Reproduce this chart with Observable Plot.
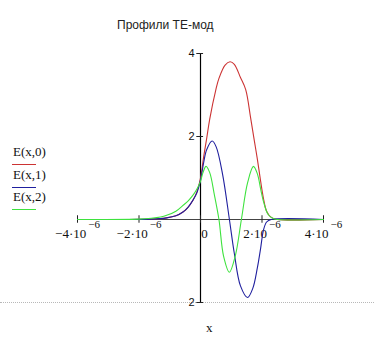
<!DOCTYPE html>
<html>
<head>
<meta charset="utf-8">
<script src="https://cdn.jsdelivr.net/npm/d3@7"></script>
<script src="https://cdn.jsdelivr.net/npm/@observablehq/plot@0.6"></script>
<style>
  html, body { margin: 0; padding: 0; background: #fff; }
  #wrap { position: relative; width: 374px; height: 350px; overflow: hidden; }
  #wrap svg { position: absolute; left: 0; top: 0; }
  .title { position: absolute; left: 117px; top: 19px; font: 12px "Liberation Sans", Arial, sans-serif; line-height: 1; color: #222; white-space: nowrap; }
  .leg { position: absolute; left: 13px; font: 13px "Liberation Serif", "Times New Roman", serif; line-height: 1; color: #111; white-space: nowrap; }
  .legline { position: absolute; left: 12px; width: 24px; height: 0; border-top: 1px solid; }
  .xlab { position: absolute; left: 206px; top: 321px; font: 13px "Liberation Serif", serif; line-height: 1; color: #111; }
  .dots { position: absolute; left: 0; top: 302px; width: 374px; height: 0; border-top: 1px dotted #b8b8b8; }
</style>
</head>
<body>
<div id="wrap">
  <div class="dots"></div>
</div>
<script>
// ---- data (x in units of 10^-6) ----
const seriesNames = ["E(x,0)", "E(x,1)", "E(x,2)"];
const seriesColors = ["#cc3333", "#1f1f9e", "#3ee23e"];

const xRed = [-4, -1.6, -1.1, -0.8, -0.57, -0.4, -0.25, -0.12, 0, 0.1, 0.2, 0.3, 0.5, 0.6, 0.8, 0.96, 1.1, 1.3, 1.47, 1.63, 1.75, 1.85, 1.95, 2.05, 2.15, 2.3, 2.5, 4];
const yRed = [0, 0.01, 0.04, 0.09, 0.18, 0.3, 0.46, 0.66, 1.0, 1.5, 1.95, 2.42, 3.13, 3.4, 3.72, 3.8, 3.74, 3.42, 3.13, 2.45, 1.9, 1.45, 0.95, 0.5, 0.2, 0.05, 0, 0];

const xBlue = [-4, -1.6, -1.1, -0.8, -0.57, -0.4, -0.25, -0.12, 0, 0.1, 0.2, 0.38, 0.51, 0.72, 0.94, 1.1, 1.3, 1.53, 1.7, 1.85, 1.95, 2.05, 2.15, 2.3, 4];
const yBlue = [0, 0.01, 0.04, 0.09, 0.18, 0.3, 0.46, 0.64, 0.95, 1.36, 1.68, 1.89, 1.75, 1.08, 0, -0.82, -1.6, -1.88, -1.66, -1.16, -0.72, -0.25, -0.06, 0, 0];

const xGreen = [-4, -2, -1.6, -1.3, -1.1, -0.8, -0.57, -0.4, -0.25, -0.12, 0, 0.08, 0.18, 0.3, 0.45, 0.6, 0.75, 0.94, 1.13, 1.33, 1.53, 1.72, 1.85, 1.96, 2.06, 2.2, 2.35, 2.5, 4];
const yGreen = [0, 0.01, 0.03, 0.06, 0.1, 0.2, 0.34, 0.45, 0.58, 0.73, 0.92, 1.13, 1.28, 1.13, 0.6, 0, -0.88, -1.27, -0.88, 0, 0.88, 1.28, 1.1, 0.72, 0.4, 0.12, 0.03, 0, 0];

const xTickValues = [-4, -2, 2, 4];
const xTickLabels = ["−4·10^−6", "−2·10^−6", "2·10^−6", "4·10^−6"];
const yTickValues = [-2, 2, 4];
const yTickLabels = ["2", "2", "4"];
const titleText = "Профили ТЕ-мод";
const xTitle = "x";

const toRows = (xs, ys) => xs.map((x, i) => ({x, y: ys[i]}));
const curves = [toRows(xRed, yRed), toRows(xBlue, yBlue), toRows(xGreen, yGreen)];

const xMin = d3.min(xTickValues), xMax = d3.max(xTickValues);
const yMin = d3.min(yTickValues), yMax = d3.max(yTickValues);

const svg = Plot.plot({
  width: 374,
  height: 350,
  marginLeft: 77,
  marginRight: 51,
  marginTop: 53,
  marginBottom: 48,
  x: {domain: [xMin, xMax], axis: null},
  y: {domain: [yMin, yMax], axis: null},
  style: {background: "transparent", fontFamily: "'Liberation Serif', serif", fontSize: "13px", color: "#111"},
  marks: [
    Plot.ruleY([0], {x1: xMin, x2: xMax, stroke: "#444", strokeWidth: 1}),
    Plot.ruleX([0], {y1: yMin, y2: yMax, stroke: "#000", strokeWidth: 1.2}),
    Plot.ruleX([...xTickValues, 0], {y1: -0.09, y2: 0.09, stroke: "#222"}),
    Plot.ruleY(yTickValues, {x1: -0.12, x2: 0.1, stroke: "#222"}),
    Plot.text(xTickValues, {x: d => d, y: 0, text: (d, i) => xTickLabels[i], dy: 14, textAnchor: "middle", fill: "#111", fontSize: 13}),
    Plot.text([0], {x: d => d, y: 0, text: ["0"], dy: 14, dx: 4, fill: "#111", fontSize: 13}),
    Plot.text(yTickValues, {x: 0, y: d => d, text: (d, i) => yTickLabels[i], textAnchor: "end", dx: -6, fill: "#111", fontSize: 11, fontFamily: "'Liberation Sans', sans-serif"}),
    ...curves.map((c, i) => Plot.line(c, {x: "x", y: "y", stroke: seriesColors[i], strokeWidth: 1.1, curve: "catmull-rom"}))
  ]
});

// split "base^exp" labels into base + superscript
svg.querySelectorAll("text").forEach(t => {
  const s = t.textContent;
  if (s.includes("^")) {
    const [base, exp] = s.split("^");
    t.textContent = "";
    const ns = "http://www.w3.org/2000/svg";
    const b = document.createElementNS(ns, "tspan");
    b.textContent = base;
    const e = document.createElementNS(ns, "tspan");
    e.textContent = exp;
    e.setAttribute("dy", "-10");
    e.setAttribute("dx", "2");
    e.setAttribute("font-size", "11");
    t.appendChild(b);
    t.appendChild(e);
  }
});

const wrap = document.getElementById("wrap");
wrap.appendChild(svg);

const title = document.createElement("div");
title.className = "title";
title.textContent = titleText;
wrap.appendChild(title);

const legTops = [145, 168, 190];
const lineTops = [164, 187, 209];
seriesNames.forEach((n, i) => {
  const t = document.createElement("div");
  t.className = "leg";
  t.style.top = legTops[i] + "px";
  t.textContent = n;
  wrap.appendChild(t);
  const l = document.createElement("div");
  l.className = "legline";
  l.style.top = lineTops[i] + "px";
  l.style.borderTopColor = seriesColors[i];
  wrap.appendChild(l);
});

const xl = document.createElement("div");
xl.className = "xlab";
xl.textContent = xTitle;
wrap.appendChild(xl);
</script>
</body>
</html>
